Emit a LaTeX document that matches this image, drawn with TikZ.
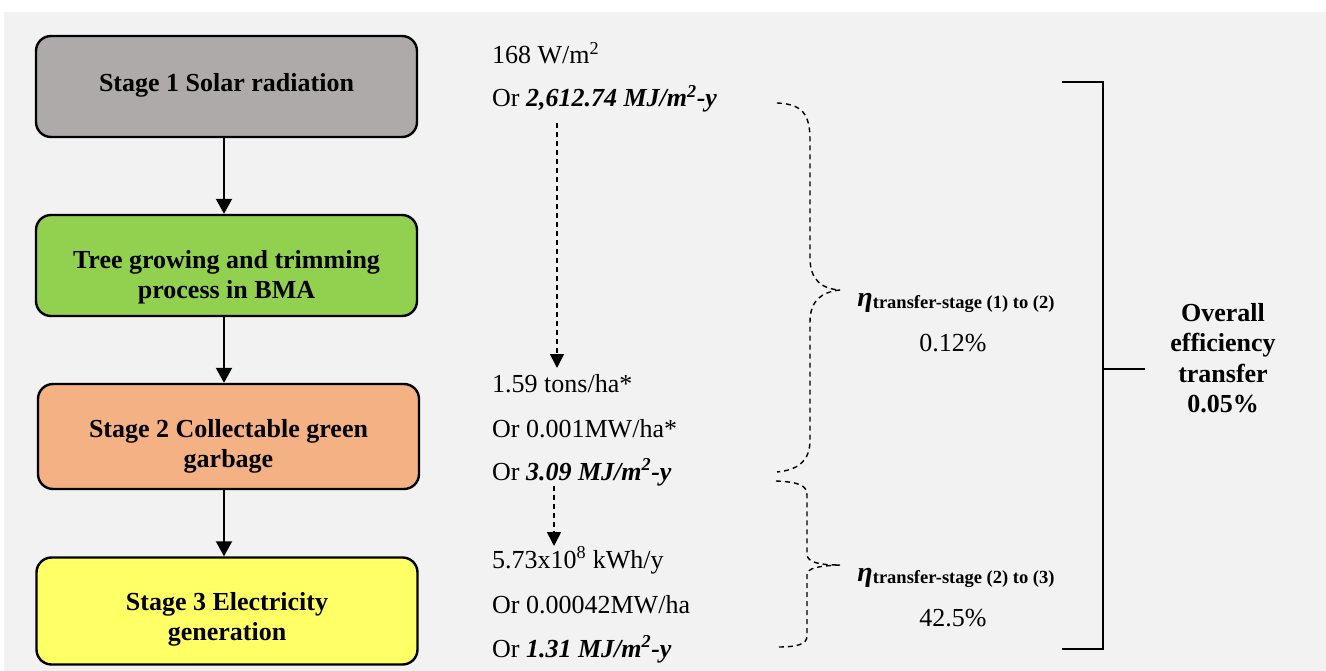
\documentclass[tikz,border=0pt]{standalone}
\usepackage{fontspec}
\setmainfont{Liberation Serif}
\usetikzlibrary{arrows.meta,calc}
\definecolor{bgc}{HTML}{F2F2F2}
\definecolor{grayc}{HTML}{AEAAAA}
\definecolor{greenc}{HTML}{92D050}
\definecolor{orangec}{HTML}{F4B183}
\definecolor{yellowc}{HTML}{FFFF66}
\tikzset{
  stagebox/.style={draw=black, line width=2.4pt, rounded corners=15pt, minimum width=381pt, inner sep=0pt},
  boxtext/.style={align=center, font=\fontsize{26}{30}\selectfont\bfseries, inner sep=0pt},
  arr/.style={line width=2pt, -{Triangle[length=15pt,width=16pt]}},
  darr/.style={line width=1.6pt, dash pattern=on 5pt off 4pt, -{Triangle[length=14pt,width=14pt]}},
  brace/.style={line width=1.4pt, dash pattern=on 5pt off 4pt},
  valtext/.style={anchor=base west, inner sep=0pt, font=\fontsize{26}{30}\selectfont},
  etatext/.style={anchor=center, inner sep=0pt, font=\fontsize{26}{30}\selectfont},
  bracketline/.style={line width=1.6pt}
}
\newcommand{\bmj}[1]{\textbf{\textit{#1 MJ/m\textsuperscript{2}-y}}}
\newcommand{\etalab}[1]{{\fontsize{28}{30}\selectfont\bfseries\itshape η}\raisebox{-2pt}{\fontsize{18.5}{20}\selectfont\bfseries transfer-stage #1}}
\begin{document}
\begin{tikzpicture}[x=1pt,y=-1pt]
\useasboundingbox (0,0) rectangle (1326,671);
\fill[bgc] (4,12) rectangle (1326,671);
% stage boxes
\node[stagebox, fill=grayc, minimum height=101pt] (b1) at (226.5,86.5) {};
\node[stagebox, fill=greenc, minimum height=101pt] (b2) at (226.5,265.5) {};
\node[stagebox, fill=orangec, minimum height=105pt] (b3) at (228.5,436.5) {};
\node[stagebox, fill=yellowc, minimum height=107pt] (b4) at (227,611) {};
\node[boxtext] (b1t) at ($(b1.center)+(0,-1)$) {Stage 1 Solar radiation};
\node[boxtext] (b2t) at ($(b2.center)+(0,12)$) {Tree growing and trimming\\process in BMA};
\node[boxtext] (b3t) at ($(b3.center)+(0,10)$) {Stage 2 Collectable green\\garbage};
\node[boxtext] (b4t) at ($(b4.center)+(0,8)$) {Stage 3 Electricity\\generation};
\coordinate (a1) at ($(b1.south)+(-2.5,0)$);
\coordinate (a2) at ($(b2.south)+(-2.5,0)$);
\coordinate (a3) at ($(b3.south)+(-4.5,0)$);
\draw[arr] (a1) -- (a1 |- b2.north);
\draw[arr] (a2) -- (a2 |- b3.north);
\draw[arr] (a3) -- (a3 |- b4.north);
% value texts
\node[valtext] (v1) at (492,64) {168 W/m\textsuperscript{2}};
\node[valtext] (v2) at (492,107) {Or \bmj{2,612.74}};
\node[valtext] (v3) at (492,392) {1.59 tons/ha*};
\node[valtext] (v4) at (492,437) {Or 0.001MW/ha*};
\node[valtext] (v5) at (492,480) {Or \bmj{3.09}};
\node[valtext] (v6) at (492,568) {5.73x10\textsuperscript{8} kWh/y};
\node[valtext] (v7) at (492,613) {Or 0.00042MW/ha};
\node[valtext] (v8) at (492,657) {Or \bmj{1.31}};
\coordinate (d1s) at (557,123);
\coordinate (d1e) at (557,368);
\coordinate (d2s) at (554,486);
\coordinate (d2e) at (554,546);
\draw[darr] (d1s) -- (d1e);
\draw[darr] (d2s) -- (d2e);
% braces
\coordinate (ba1) at (777,103);
\coordinate (tip1) at (840,290);
\coordinate (bb1) at (777,472);
\draw[brace] (ba1) .. controls (803,104) and (810,115) .. (810,140) -- (810,258) .. controls (810,280) and (822,289) .. (tip1);
\draw[brace] (tip1) .. controls (822,292) and (810,300) .. (810,322) -- (810,440) .. controls (810,462) and (797,470) .. (bb1);
\coordinate (ba2) at (776,481);
\coordinate (tip2) at (840,565);
\coordinate (bb2) at (778,647);
\draw[brace] (ba2) .. controls (798,482) and (807,485) .. (807,495) -- (807,555) .. controls (808,562) and (818,565) .. (tip2);
\draw[brace] (tip2) .. controls (818,566) and (807,568) .. (807,575) -- (807,636) .. controls (807,644) and (798,647) .. (bb2);
% eta labels
\node[etatext] (e1) at (956,303) {\etalab{(1) to (2)}};
\node[etatext] (p1) at (953,343) {0.12\%};
\node[etatext] (e2) at (956,578) {\etalab{(2) to (3)}};
\node[etatext] (p2) at (953,618) {42.5\%};
% overall bracket
\coordinate (q1) at (1062,82);
\coordinate (q2) at (1103,82);
\coordinate (q3) at (1103,649);
\coordinate (q4) at (1062,649);
\coordinate (qm) at (1103,369);
\coordinate (qt) at (1145,369);
\draw[bracketline] (q1) -- (q2) -- (q3) -- (q4);
\draw[bracketline] (qm) -- (qt);
\node[align=center, inner sep=0pt, font=\fontsize{26}{30.5}\selectfont\bfseries] (ov) at (1223,358) {Overall\\efficiency\\transfer\\0.05\%};
\end{tikzpicture}
\end{document}
